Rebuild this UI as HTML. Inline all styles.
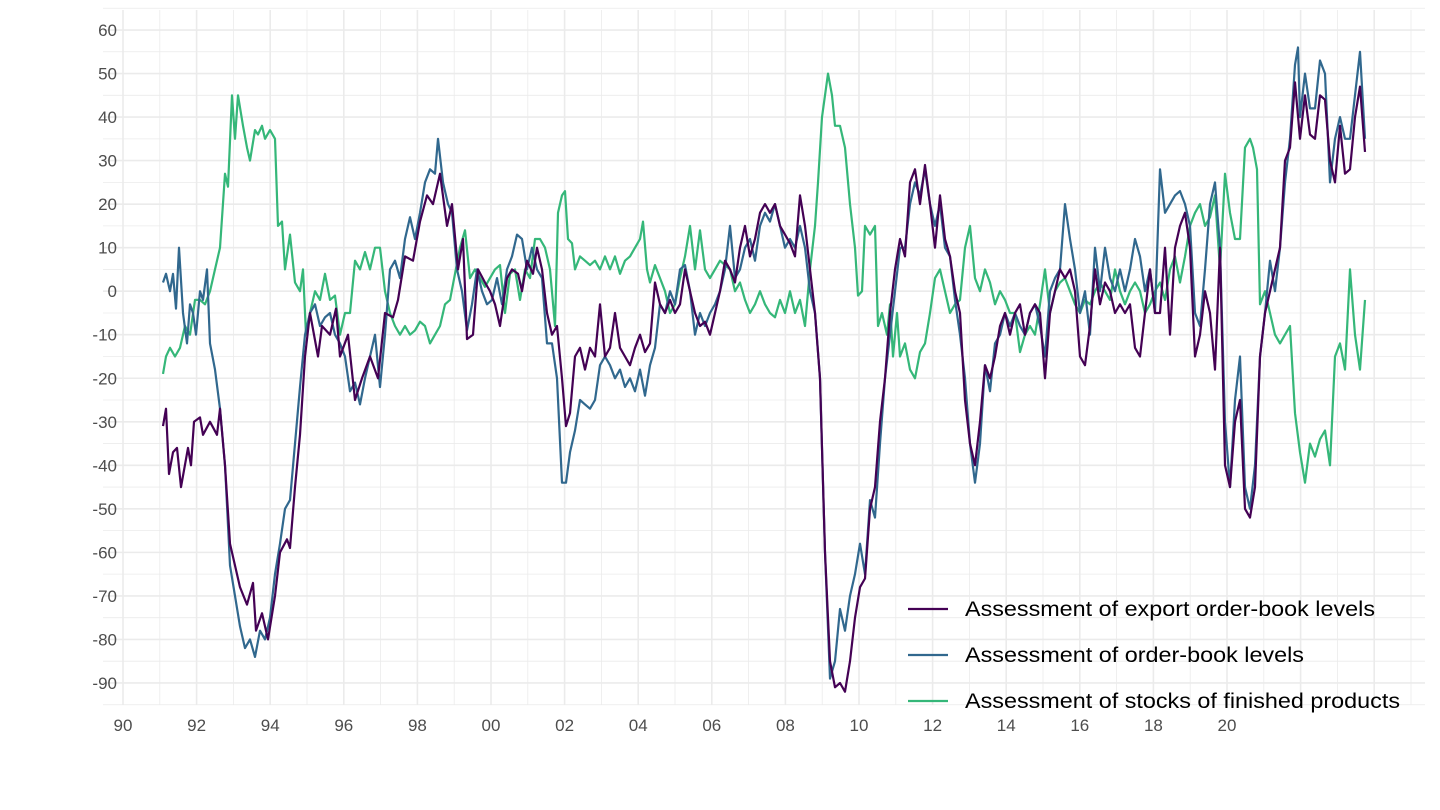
<!DOCTYPE html>
<html><head><meta charset="utf-8"><style>
html,body{margin:0;padding:0;background:#fff;}
svg{display:block;font-family:"Liberation Sans",sans-serif;}
</style></head><body>
<svg id="s" width="1440" height="810" viewBox="0 0 1440 810" xmlns="http://www.w3.org/2000/svg">
<g id="grid"></g><g id="lines"></g><g id="labels" fill="#4d4d4d" font-size="17"></g>
<g font-size="21" fill="#000">
<line x1="908" y1="609" x2="948" y2="609" stroke="#440154" stroke-width="2.2"/>
<text x="965" y="616" textLength="410" lengthAdjust="spacingAndGlyphs">Assessment of export order-book levels</text>
<line x1="908" y1="655" x2="948" y2="655" stroke="#31688e" stroke-width="2.2"/>
<text x="965" y="662" textLength="339" lengthAdjust="spacingAndGlyphs">Assessment of order-book levels</text>
<line x1="908" y1="701" x2="948" y2="701" stroke="#35b779" stroke-width="2.2"/>
<text x="965" y="708" textLength="435" lengthAdjust="spacingAndGlyphs">Assessment of stocks of finished products</text>
</g>
</svg>
<script>
var NS="http://www.w3.org/2000/svg";
function el(p,t,a,txt){var e=document.createElementNS(NS,t);for(var k in a)e.setAttribute(k,a[k]);if(txt!==undefined)e.textContent=txt;p.appendChild(e);return e;}
function Y(v){return 291.2-v*4.353;}
var g=document.getElementById('grid'),lb=document.getElementById('labels');
var L=103,R=1425,T=10,B=705;
for(var v=-95;v<=65;v+=5){var maj=(v%10===0);el(g,'line',{x1:L,x2:R,y1:Y(v),y2:Y(v),stroke:'#ebebeb','stroke-width':maj?1.6:0.8});
 if(maj&&v>=-90&&v<=60)el(lb,'text',{x:117,y:Y(v)+6,'text-anchor':'end'},String(v));}
for(var i=-1;i<=35;i++){var x=123+i*36.8;if(x<L||x>R)continue;var maj=(i%2===0);
 el(g,'line',{x1:x,x2:x,y1:T,y2:B,stroke:'#ebebeb','stroke-width':maj?1.6:0.8});
 if(maj&&i>=0&&i<=30){var yr=(90+i)%100;el(lb,'text',{x:x,y:731,'text-anchor':'middle'},(yr<10?'0':'')+yr);}}
function poly(d,c){var s=[];for(var i=0;i<d.length;i+=2)s.push(d[i]+','+Y(d[i+1]).toFixed(1));
 el(document.getElementById('lines'),'polyline',{points:s.join(' '),fill:'none',stroke:c,'stroke-width':2.2,'stroke-linejoin':'round'});}
var P=[163,-31,166,-27,169,-42,173,-37,177,-36,181,-45,188,-36,191,-40,194,-30,200,-29,203,-33,210,-30,217,-33,220,-27,225,-40,230,-58,240,-68,247,-72,253,-67,256,-78,262,-74,268,-80,275,-70,280,-60,287,-57,290,-59,295,-45,300,-33,305,-15,310,-5,318,-15,322,-8,330,-10,336,-4,340,-15,348,-10,355,-25,362,-20,370,-15,378,-20,385,-5,393,-6,398,-2,405,8,413,7,420,16,427,22,433,20,440,27,447,15,452,20,458,5,463,12,467,-11,473,-10,478,5,485,2,490,0,495,-3,500,-8,507,3,512,5,518,4,522,0,527,7,533,4,537,10,542,5,547,-5,552,-10,557,-8,562,-20,566,-31,570,-28,575,-15,580,-13,585,-18,590,-13,595,-15,600,-3,605,-15,610,-13,615,-5,620,-13,625,-15,630,-17,635,-13,640,-10,645,-14,650,-12,655,2,660,-3,665,-5,670,-2,675,-5,680,-3,685,5,690,0,695,-5,700,-8,705,-7,710,-10,715,-5,720,0,725,7,730,5,735,2,740,10,745,15,750,8,755,12,760,18,765,20,770,18,775,20,780,15,785,13,790,11,795,8,800,22,805,15,810,5,815,-5,820,-20,825,-60,830,-85,835,-91,840,-90,845,-92,850,-85,855,-75,860,-68,865,-66,870,-50,875,-45,880,-30,885,-20,890,-5,895,5,900,12,905,8,910,25,915,28,920,20,925,29,930,20,935,10,940,22,945,12,950,8,955,0,960,-5,965,-25,970,-35,975,-40,980,-30,985,-17,990,-20,995,-15,1000,-8,1005,-5,1010,-10,1015,-5,1020,-3,1025,-10,1030,-5,1035,-3,1040,-5,1045,-20,1050,-5,1055,0,1060,5,1065,3,1070,5,1075,0,1080,-15,1085,-17,1090,-8,1095,5,1100,-3,1105,2,1110,0,1115,-5,1120,-3,1125,-5,1130,-3,1135,-13,1140,-15,1145,-5,1150,5,1155,-5,1160,-5,1165,10,1170,-10,1175,10,1180,15,1185,18,1190,10,1195,-15,1200,-10,1205,0,1210,-5,1215,-18,1220,10,1225,-40,1230,-45,1235,-30,1240,-25,1245,-50,1250,-52,1255,-45,1260,-15,1265,-5,1270,0,1275,5,1280,10,1285,30,1290,33,1295,48,1300,35,1305,45,1310,36,1315,35,1320,45,1325,44,1330,30,1335,25,1340,38,1345,27,1350,28,1355,40,1360,47,1365,32];
var Bl=[163,2,166,4,170,0,173,4,176,-4,179,10,183,-5,187,-12,190,-3,193,-5,196,-10,200,0,203,-2,207,5,210,-12,215,-18,220,-27,225,-40,230,-63,235,-70,240,-77,245,-82,250,-80,255,-84,260,-78,265,-80,270,-75,275,-65,280,-58,285,-50,290,-48,295,-35,300,-22,305,-10,310,-5,315,-3,320,-8,325,-6,330,-5,335,-10,340,-12,345,-15,350,-23,355,-21,360,-26,365,-20,370,-15,375,-10,380,-22,385,-10,390,5,395,7,400,3,405,12,410,17,415,12,420,18,425,25,430,28,435,27,438,35,443,25,448,20,452,18,457,5,462,0,467,-9,472,-3,477,5,482,0,487,-3,492,-2,497,3,502,-3,507,5,512,8,517,13,522,12,527,5,532,10,537,5,542,3,547,-12,552,-12,557,-20,562,-44,566,-44,570,-37,575,-32,580,-25,585,-26,590,-27,595,-25,600,-17,605,-15,610,-17,615,-20,620,-18,625,-22,630,-20,635,-23,640,-18,645,-24,650,-17,655,-13,660,-3,665,-5,670,0,675,-3,680,5,685,6,690,0,695,-10,700,-5,705,-8,710,-5,715,-3,720,0,725,5,730,15,735,3,740,5,745,10,750,12,755,7,760,15,765,18,770,16,775,20,780,15,785,10,790,12,795,10,800,15,805,10,810,0,815,-5,820,-20,825,-60,830,-89,835,-85,840,-73,845,-78,850,-70,855,-65,860,-58,865,-65,870,-48,875,-52,880,-35,885,-20,890,-10,895,0,900,10,905,10,910,20,915,25,920,22,925,28,930,20,935,15,940,20,945,10,950,8,955,-2,960,-10,965,-20,970,-35,975,-44,980,-35,985,-17,990,-23,995,-12,1000,-10,1005,-5,1010,-8,1015,-5,1020,-8,1025,-10,1030,-5,1035,-3,1040,-8,1045,-15,1050,0,1055,3,1060,5,1065,20,1070,12,1075,5,1080,-5,1085,0,1090,-10,1095,10,1100,0,1105,10,1110,3,1115,0,1120,5,1125,0,1130,5,1135,12,1140,8,1145,0,1150,5,1155,-5,1160,28,1165,18,1170,20,1175,22,1180,23,1185,20,1190,15,1195,-5,1200,-8,1205,5,1210,20,1215,25,1220,10,1225,-30,1230,-45,1235,-25,1240,-15,1245,-45,1250,-50,1255,-40,1260,-15,1265,-5,1270,7,1275,0,1280,10,1285,25,1290,35,1295,52,1298,56,1300,40,1305,50,1310,42,1315,42,1320,53,1325,50,1330,25,1335,35,1340,40,1345,35,1350,35,1355,45,1360,55,1365,35];
var G=[163,-19,166,-15,170,-13,175,-15,180,-13,185,-8,190,-10,195,-2,200,-2,205,-3,210,0,215,5,220,10,225,27,228,24,232,45,235,35,238,45,243,38,247,33,250,30,255,37,258,36,262,38,265,35,270,37,275,35,278,15,282,16,285,5,290,13,295,2,300,0,303,5,306,-10,310,-5,315,0,320,-2,325,4,330,-2,335,-1,340,-10,345,-5,350,-5,355,7,360,5,365,9,370,5,375,10,380,10,385,0,390,-5,395,-8,400,-10,405,-8,410,-10,415,-9,420,-7,425,-8,430,-12,435,-10,440,-8,445,-3,450,-2,455,4,460,10,465,14,470,3,475,5,480,3,485,1,490,3,495,5,500,6,505,-5,510,4,515,5,520,-2,525,5,530,3,535,12,540,12,545,10,550,5,555,-8,558,18,562,22,565,23,568,12,572,11,575,5,580,8,585,7,590,6,595,7,600,5,605,8,610,5,615,8,620,4,625,7,630,8,635,10,640,12,643,16,647,5,650,2,655,6,660,3,665,0,670,-5,675,-3,680,3,685,8,690,15,695,5,700,14,705,5,710,3,715,5,720,7,725,6,730,5,735,0,740,2,745,-2,750,-5,755,-3,760,0,765,-3,770,-5,775,-6,780,-2,785,-5,790,0,795,-5,800,-2,805,-8,810,5,815,15,818,25,822,40,828,50,832,45,835,38,840,38,845,33,850,20,855,10,858,-1,862,0,865,15,870,13,875,15,878,-8,882,-5,887,-10,890,-3,893,-15,897,-5,900,-15,905,-12,910,-18,915,-20,920,-14,925,-12,930,-5,935,3,940,5,945,0,950,-5,955,-3,960,-2,965,10,970,15,975,3,980,0,985,5,990,2,995,-3,1000,0,1005,-2,1010,-5,1015,-5,1020,-14,1025,-10,1030,-8,1035,-10,1040,-3,1045,5,1050,-5,1055,0,1060,2,1065,3,1070,0,1075,-3,1080,-5,1085,-2,1090,-3,1095,0,1100,2,1105,0,1110,-2,1115,5,1120,0,1125,-3,1130,0,1135,2,1140,0,1145,-5,1150,-3,1155,0,1160,2,1165,-2,1170,5,1175,8,1180,2,1185,8,1190,15,1195,18,1200,20,1205,15,1210,17,1215,22,1220,5,1225,27,1230,18,1235,12,1240,12,1245,33,1250,35,1253,33,1257,28,1260,-3,1265,0,1270,-5,1275,-10,1280,-12,1285,-10,1290,-8,1295,-28,1300,-37,1305,-44,1310,-35,1315,-38,1320,-34,1325,-32,1330,-40,1335,-15,1340,-12,1345,-18,1350,5,1355,-10,1360,-18,1365,-2];
poly(G,'#35b779');poly(Bl,'#31688e');poly(P,'#440154');
</script>
</body></html>
